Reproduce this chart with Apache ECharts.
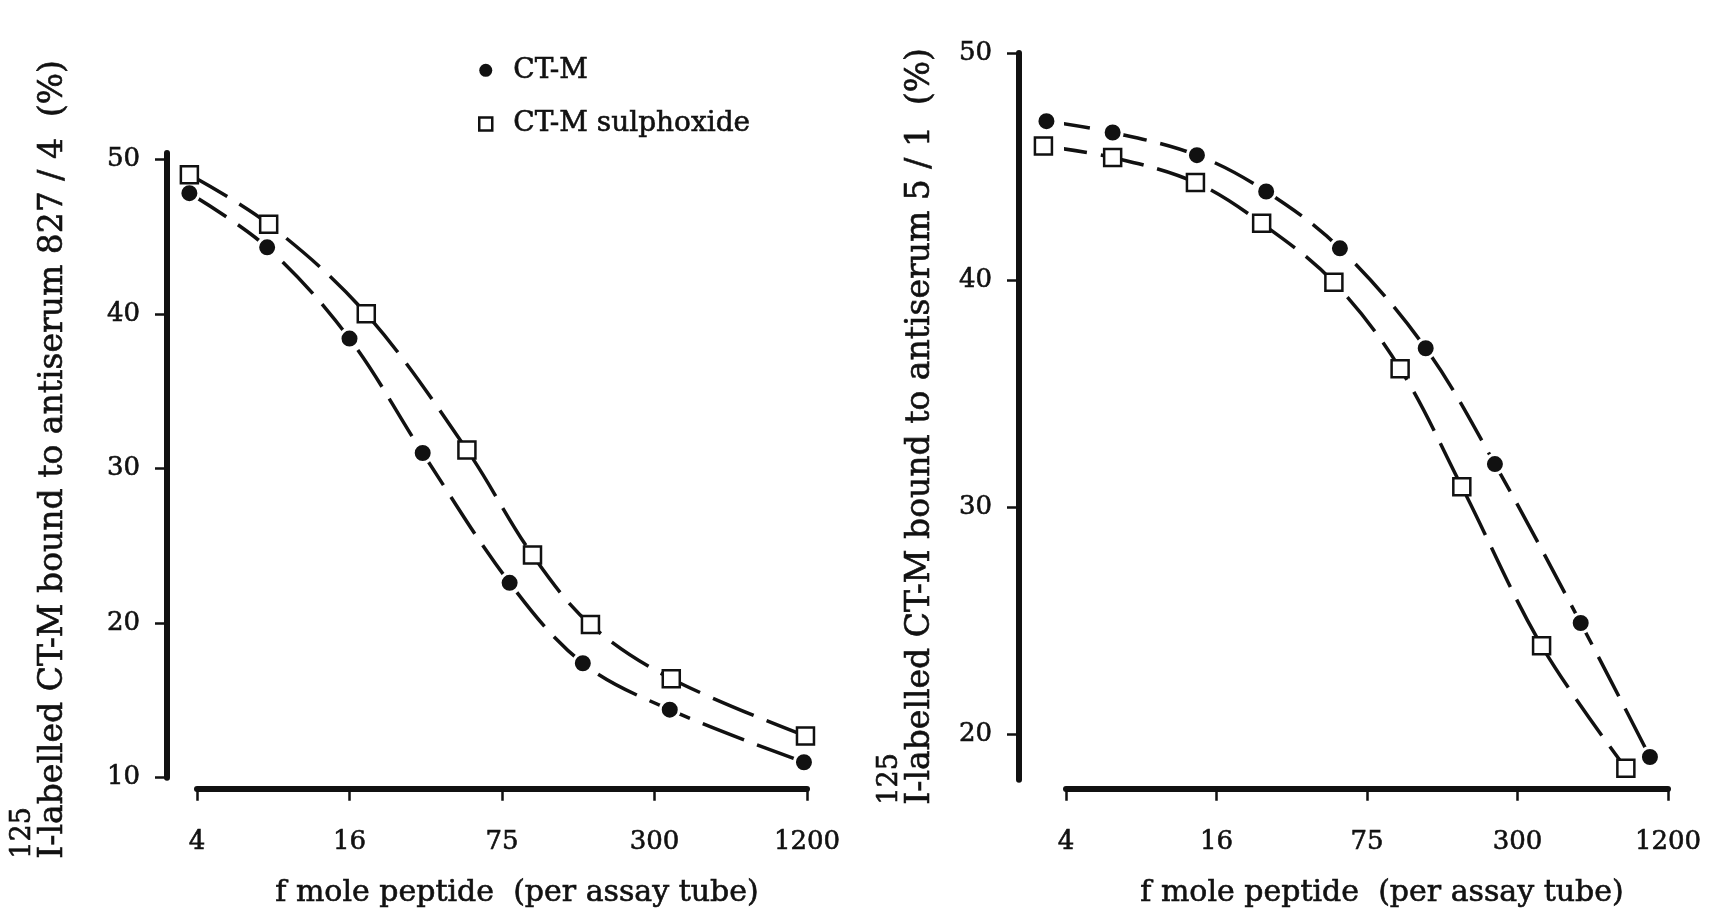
<!DOCTYPE html>
<html>
<head>
<meta charset="utf-8">
<title>CT-M binding to antisera</title>
<script src="https://cdn.jsdelivr.net/npm/echarts@6/dist/echarts.min.js"></script>
<style>
html, body { margin: 0; padding: 0; background: #fff; }
#chart { width: 1718px; height: 914px; }
</style>
</head>
<body>
<div id="chart"></div>
<script>
// dose axis is drawn in tick steps: 0 = 4 fmol, 1 = 16, 2 = 75, 3 = 300, 4 = 1200
const doseTicks = ['4', '16', '75', '300', '1200'];

// antiserum 827/4
const ctmX_827 = [-0.05, 0.46, 1.0, 1.48, 2.05, 2.53, 3.1, 3.98];
const ctmY_827 = [47.8, 44.3, 38.4, 31.0, 22.6, 17.4, 14.4, 11.0];
const sulfX_827 = [-0.05, 0.47, 1.11, 1.77, 2.2, 2.58, 3.11, 3.99];
const sulfY_827 = [49.0, 45.8, 40.0, 31.2, 24.4, 19.9, 16.4, 12.7];

// antiserum 5/1
const ctmX_51 = [-0.13, 0.31, 0.87, 1.33, 1.82, 2.39, 2.85, 3.42, 3.88];
const ctmY_51 = [47.0, 46.5, 45.5, 43.9, 41.4, 37.0, 31.9, 24.9, 19.0];
const sulfX_51 = [-0.15, 0.31, 0.86, 1.30, 1.78, 2.22, 2.63, 3.16, 3.72];
const sulfY_51 = [45.9, 45.4, 44.3, 42.5, 39.9, 36.1, 30.9, 23.9, 18.5];

const yTicks827 = [10, 20, 30, 40, 50];
const yTicks51 = [20, 30, 40, 50];

const INK = '#111';
const FONT = 'DejaVu Serif';
// thin outline so the type looks as heavy as the typewritten original
const HEAVY = { textBorderColor: INK, textBorderWidth: 0.6 };

const chart = echarts.init(document.getElementById('chart'));

function pairs(xs, ys) {
  return xs.map((x, i) => [x, ys[i]]);
}

function curve(name, xs, ys, idx, isCircle) {
  return {
    name: name,
    type: 'line',
    xAxisIndex: idx,
    yAxisIndex: idx,
    data: pairs(xs, ys),
    smooth: 0.35,
    clip: false,
    symbol: isCircle ? 'circle' : 'rect',
    symbolSize: isCircle ? 19 : 17,
    itemStyle: isCircle
      ? { color: INK, borderColor: '#fff', borderWidth: 3 }
      : { color: '#fff', borderColor: INK, borderWidth: 2.5 },
    lineStyle: { color: INK, width: 3.5, type: [44, 14] },
    emphasis: { disabled: true },
    animation: false
  };
}

function xAxisFor(idx, offset) {
  return {
    type: 'value',
    gridIndex: idx,
    min: 0,
    max: 4,
    interval: 1,
    offset: offset,
    axisLine: { onZero: false, lineStyle: { color: INK, width: 6 } },
    axisTick: { length: 12, lineStyle: { color: INK, width: 2.5 } },
    axisLabel: Object.assign({
      margin: 41,
      color: INK,
      fontFamily: FONT,
      fontSize: 26,
      formatter: v => doseTicks[v]
    }, HEAVY),
    splitLine: { show: false },
    name: 'f mole peptide  (per assay tube)',
    nameLocation: 'middle',
    nameGap: 90,
    nameTextStyle: Object.assign({ color: INK, fontFamily: FONT, fontSize: 30, padding: [0, 0, 0, 30] }, HEAVY)
  };
}

// the 125 sits on its own short line, left-aligned, so it reads as a superscript
function yAxisFor(idx, min, max, ticks, offset, gap, serum, shift) {
  return {
    type: 'value',
    gridIndex: idx,
    min: min,
    max: max,
    offset: offset,
    axisLine: { onZero: false, lineStyle: { color: INK, width: 6 } },
    axisTick: { length: 12, customValues: ticks, lineStyle: { color: INK, width: 2.5 } },
    axisLabel: Object.assign({ margin: 27, customValues: ticks, color: INK, fontFamily: FONT, fontSize: 26 }, HEAVY),
    splitLine: { show: false },
    name: '{sup|125}\n{t|I-labelled CT-M bound to antiserum ' + serum + '  (%)}',
    nameLocation: 'middle',
    nameGap: gap,
    nameTextStyle: {
      color: INK,
      fontFamily: FONT,
      rich: {
        sup: Object.assign({ fontSize: 27, lineHeight: 29, fontFamily: FONT, color: INK, align: 'left', padding: [0, shift[1], 0, shift[0]] }, HEAVY),
        t: Object.assign({ fontSize: 33, lineHeight: 33, fontFamily: FONT, color: INK, padding: [0, shift[1], 0, shift[0]] }, HEAVY)
      }
    }
  };
}

const option = {
  backgroundColor: '#fff',
  animation: false,
  legend: {
    orient: 'vertical',
    left: 473,
    top: 51,
    itemGap: 25,
    itemWidth: 13,
    itemHeight: 13,
    selectedMode: false,
    textStyle: Object.assign({ color: INK, fontFamily: FONT, fontSize: 28, padding: [0, 0, 0, 16] }, HEAVY),
    data: [
      { name: 'CT-M', icon: 'circle', itemStyle: { color: INK, borderWidth: 0 } },
      { name: 'CT-M sulphoxide', icon: 'rect', itemStyle: { color: '#fff', borderColor: INK, borderWidth: 2.5 } }
    ]
  },
  grid: [
    { left: 197, width: 610, top: 153, height: 627 },
    { left: 1066, width: 602, top: 53, height: 727 }
  ],
  xAxis: [xAxisFor(0, 11), xAxisFor(1, 9)],
  yAxis: [
    yAxisFor(0, 10, 50.4, yTicks827, 30, 97, '827 / 4', [12, 0]),
    yAxisFor(1, 18, 50, yTicks51, 47, 82, '5 / 1', [0, 20])
  ],
  series: [
    curve('CT-M', ctmX_827, ctmY_827, 0, true),
    curve('CT-M sulphoxide', sulfX_827, sulfY_827, 0, false),
    curve('CT-M', ctmX_51, ctmY_51, 1, true),
    curve('CT-M sulphoxide', sulfX_51, sulfY_51, 1, false)
  ]
};

chart.setOption(option);
</script>
</body>
</html>
